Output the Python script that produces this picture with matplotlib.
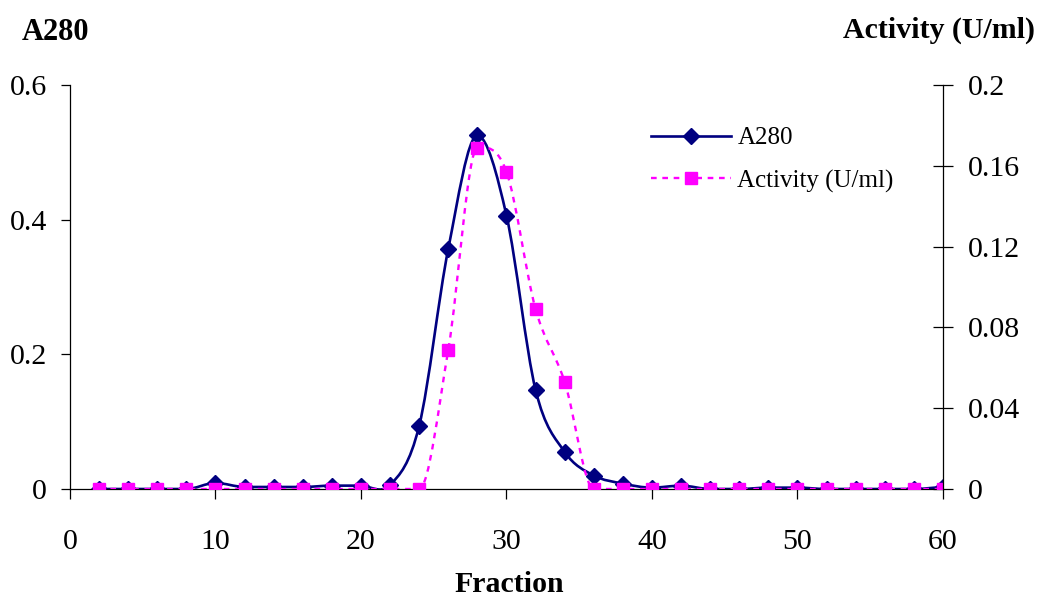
import matplotlib
matplotlib.use("Agg")
import matplotlib.pyplot as plt
import numpy as np
from matplotlib.lines import Line2D
from matplotlib.patches import PathPatch
from matplotlib.path import Path
from matplotlib.ticker import FuncFormatter

# elution profile, even fractions only
fraction = [2, 4, 6, 8, 10, 12, 14, 16, 18, 20, 22, 24, 26, 28, 30,
            32, 34, 36, 38, 40, 42, 44, 46, 48, 50, 52, 54, 56, 58, 60]
a280 = [0.0, 0.0, 0.0, 0.0, 0.009, 0.003, 0.003, 0.003, 0.005, 0.005,
        0.006, 0.094, 0.357, 0.525, 0.406, 0.147, 0.055, 0.020, 0.008, 0.002,
        0.005, 0.0, 0.0, 0.002, 0.002, 0.0, 0.0, 0.0, 0.0, 0.003]
activity = [0.0, 0.0, 0.0, 0.0, 0.0, 0.0, 0.0, 0.0, 0.0, 0.0,
            0.0, 0.0, 0.069, 0.169, 0.157, 0.089, 0.053, 0.0, 0.0, 0.0,
            0.0, 0.0, 0.0, 0.0, 0.0, 0.0, 0.0, 0.0, 0.0, 0.0]

x_ticks = [0, 10, 20, 30, 40, 50, 60]
a280_ticks = [0, 0.2, 0.4, 0.6]
activity_ticks = [0, 0.04, 0.08, 0.12, 0.16, 0.2]

NAVY = "#000080"
MAGENTA = "#FF00FF"

plt.rcParams["font.family"] = ["Liberation Serif", "DejaVu Serif"]


def smooth_path(x, y):
    """Cubic Bezier through every point; tangents are flattened at turns and plateaus."""
    x = np.asarray(x, float)
    y = np.asarray(y, float)
    n = len(x)
    d = np.diff(y) / np.diff(x)
    m = np.zeros(n)
    for i in range(1, n - 1):
        if d[i - 1] * d[i] > 0:
            m[i] = (y[i + 1] - y[i - 1]) / (x[i + 1] - x[i - 1])
    m[0], m[-1] = d[0], d[-1]
    verts = [(x[0], y[0])]
    codes = [Path.MOVETO]
    for i in range(n - 1):
        h = x[i + 1] - x[i]
        verts += [(x[i] + h / 3, y[i] + m[i] * h / 3),
                  (x[i + 1] - h / 3, y[i + 1] - m[i + 1] * h / 3),
                  (x[i + 1], y[i + 1])]
        codes += [Path.CURVE4] * 3
    return Path(verts, codes)


fig = plt.figure(figsize=(10.38, 5.97), dpi=100)
ax = fig.add_axes([70 / 1038, 1 - 489 / 597, 873 / 1038, 404 / 597])
ax2 = ax.twinx()

ax.add_patch(PathPatch(smooth_path(fraction, a280), fill=False,
                       edgecolor=NAVY, lw=1.9, capstyle="round"))
ax.plot(fraction, a280, linestyle="none", marker="D", ms=8,
        color=NAVY, mec=NAVY)

ax2.add_patch(PathPatch(smooth_path(fraction, activity), fill=False,
                        edgecolor=MAGENTA, lw=1.7, linestyle=(0, (2.4, 2.4))))
ax2.plot(fraction, activity, linestyle="none", marker="s", ms=8,
         color=MAGENTA, mec=MAGENTA)

ax.set_xlim(0, 60)
ax.set_ylim(0, 0.6)
ax2.set_ylim(0, 0.2)
ax.set_xticks(x_ticks)
ax.set_yticks(a280_ticks)
ax2.set_yticks(activity_ticks)
fmt = FuncFormatter(lambda v, _: f"{v:g}")
ax.yaxis.set_major_formatter(fmt)
ax2.yaxis.set_major_formatter(fmt)

for s in ("top", "right"):
    ax.spines[s].set_visible(False)
for s in ("top", "left", "bottom"):
    ax2.spines[s].set_visible(False)
for sp in (ax.spines["left"], ax.spines["bottom"], ax2.spines["right"]):
    sp.set_linewidth(0.9)
    sp.set_color("black")

ax.tick_params(axis="y", direction="out", length=6.5, width=0.9,
               pad=10, labelsize=21.5)
ax.tick_params(axis="x", direction="out", length=7, width=0.9,
               pad=22, labelsize=21.5)
ax2.tick_params(axis="y", direction="inout", length=14.4, width=0.9,
                pad=10.5, labelsize=21.5)

fig.text(22 / 1038, 1 - 32 / 597, "A280", fontsize=22, fontweight="bold",
         ha="left", va="center")
fig.text(1035 / 1038, 1 - 30 / 597, "Activity (U/ml)", fontsize=21.5,
         fontweight="bold", ha="right", va="center")
fig.text(509 / 1038, 1 - 584 / 597, "Fraction", fontsize=21.5,
         fontweight="bold", ha="center", va="center")

handles = [
    Line2D([], [], color=NAVY, lw=1.9, marker="D", ms=8),
    Line2D([], [], color=MAGENTA, lw=1.7, linestyle=(0, (2.4, 2.4)),
           marker="s", ms=8),
]
ax2.legend(handles, ["A280", "Activity (U/ml)"], loc="upper left",
           bbox_to_anchor=(651 / 1038, 1 - 127 / 597),
           bbox_transform=fig.transFigure, frameon=False, fontsize=18,
           handlelength=3.2, handletextpad=0.25, labelspacing=0.8,
           borderpad=0, borderaxespad=0)

fig.savefig("out.png", dpi=100)
